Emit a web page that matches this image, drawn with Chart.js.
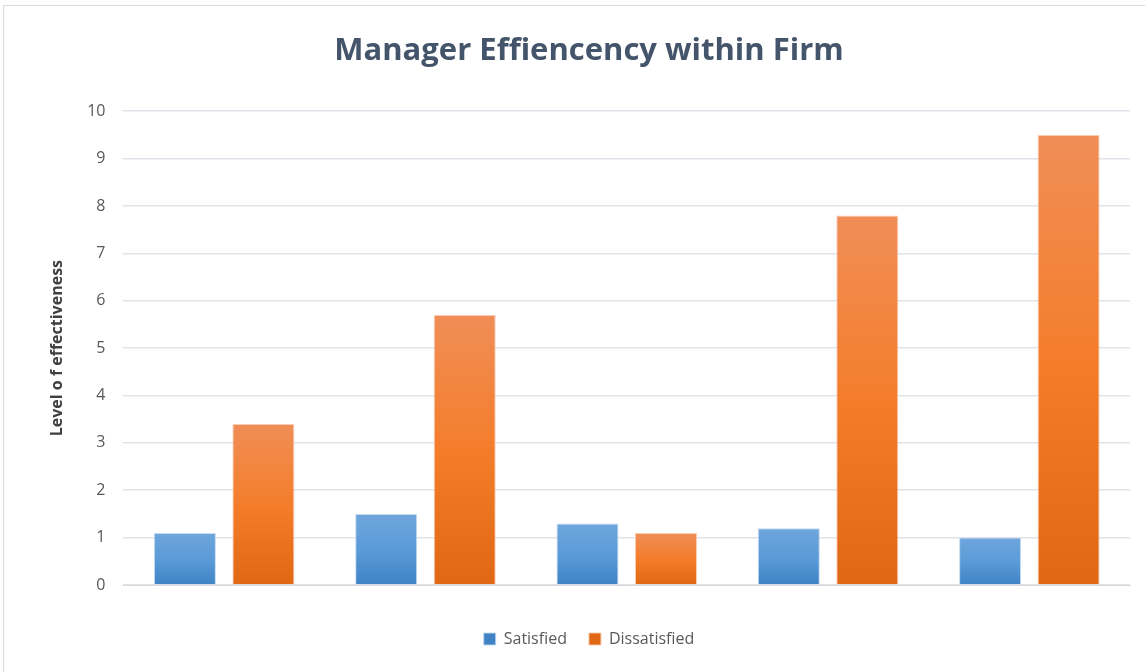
<!DOCTYPE html>
<html>
<head>
<meta charset="utf-8">
<script src="https://cdn.jsdelivr.net/npm/chart.js@4"></script>
<style>
  html, body { margin: 0; padding: 0; background: #fff; }
  #frame { position: absolute; left: 3px; top: 5px; width: 1150px; height: 672px; border: 1px solid #d9d9d9; }
  #wrap { position: absolute; left: 0; top: 0; width: 1145px; height: 672px; }
</style>
</head>
<body>
<div id="frame"></div>
<div id="wrap"><canvas id="chart"></canvas></div>
<script>
// --- dados ---
const categorias = ['1', '2', '3', '4', '5'];
const satisfeitos = [1.1, 1.5, 1.3, 1.2, 1.0];
const insatisfeitos = [3.4, 5.7, 1.1, 7.8, 9.5];
const yTicks = [0, 1, 2, 3, 4, 5, 6, 7, 8, 9, 10];

// gradiente vertical por barra (topo -> base)
function gradiente(ctx, cores) {
  const chart = ctx.chart;
  const y = chart.scales && chart.scales.y;
  if (!chart.chartArea || !y || ctx.parsed == null) return cores[1];
  const topo = y.getPixelForValue(ctx.parsed.y);
  const base = y.getPixelForValue(0);
  if (!isFinite(topo) || topo === base) return cores[1];
  const g = chart.ctx.createLinearGradient(0, topo, 0, base);
  g.addColorStop(0, cores[0]);
  g.addColorStop(0.5, cores[1]);
  g.addColorStop(1, cores[2]);
  return g;
}

const azul = ['#6fa6dc', '#5b9bd8', '#3f83c5'];
const laranja = ['#f08e57', '#f47d2b', '#e06814'];

new Chart(document.getElementById('chart'), {
  type: 'bar',
  data: {
    labels: categorias,
    datasets: [
      {
        label: 'Satisfied',
        data: satisfeitos,
        backgroundColor: ctx => gradiente(ctx, azul),
        borderColor: 'rgba(190,215,240,0.9)',
        borderWidth: 1,
        categoryPercentage: 0.78,
        barPercentage: 0.79
      },
      {
        label: 'Dissatisfied',
        data: insatisfeitos,
        backgroundColor: ctx => gradiente(ctx, laranja),
        borderColor: 'rgba(250,200,170,0.9)',
        borderWidth: 1,
        categoryPercentage: 0.78,
        barPercentage: 0.79
      }
    ]
  },
  options: {
    responsive: true,
    maintainAspectRatio: false,
    animation: false,
    layout: { padding: { left: 48, right: 15, top: 33, bottom: 15 } },
    plugins: {
      title: {
        display: true,
        text: 'Manager Effiencency within Firm',
        color: '#44546a',
        font: { family: 'Open Sans', size: 31, weight: 'bold' },
        padding: { top: 0, bottom: 41 }
      },
      legend: {
        position: 'bottom',
        labels: {
          color: '#595959',
          font: { family: 'Open Sans', size: 16 },
          boxWidth: 12,
          boxHeight: 12,
          padding: 22
        }
      },
      tooltip: { enabled: false }
    },
    scales: {
      x: {
        grid: { display: false, drawTicks: false },
        border: { display: true, color: '#d9d9d9' },
        ticks: { display: false },
        afterFit: s => { s.height = 24; }
      },
      y: {
        min: 0,
        max: 10,
        afterBuildTicks: s => { s.ticks = yTicks.map(v => ({ value: v })); },
        grid: { color: '#dfe3ea', lineWidth: 1.5, drawTicks: false },
        border: { display: false },
        ticks: {
          color: '#595959',
          font: { family: 'Open Sans', size: 16 },
          padding: 18
        },
        title: {
          display: true,
          text: 'Level o f effectiveness',
          color: '#404040',
          font: { family: 'Open Sans', size: 16, weight: 'bold' },
          padding: { top: 0, bottom: 2 }
        }
      }
    }
  }
});
</script>
</body>
</html>
